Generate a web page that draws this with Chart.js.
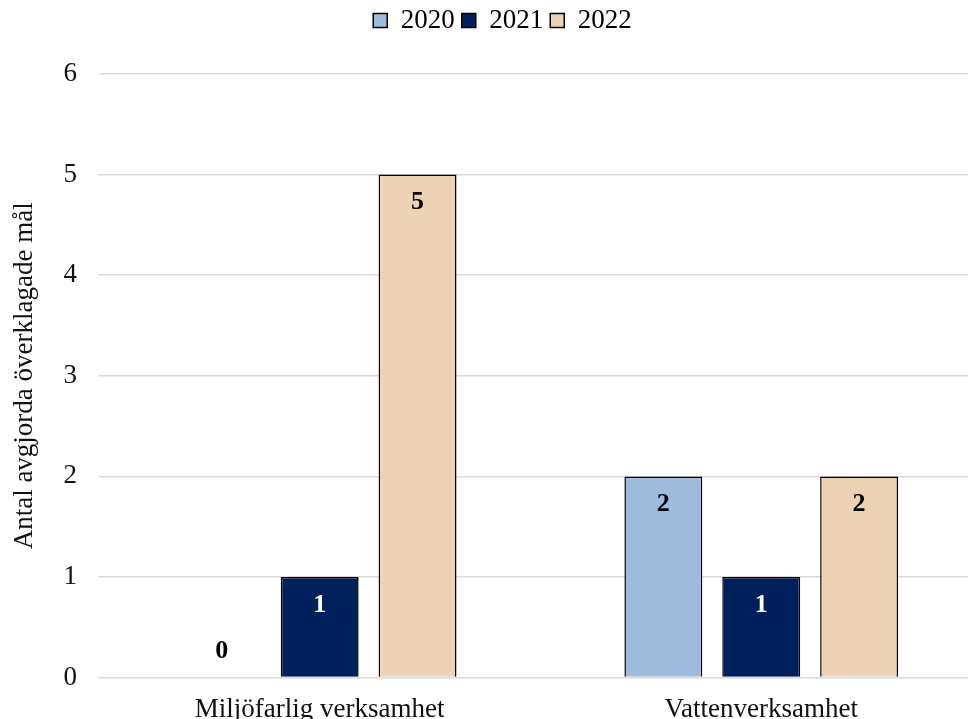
<!DOCTYPE html>
<html>
<head>
<meta charset="utf-8">
<script src="https://cdn.jsdelivr.net/npm/chart.js@4/dist/chart.umd.min.js"></script>
<style>
  html, body { margin: 0; padding: 0; background: #fff; overflow: hidden; }
  #wrap { position: absolute; left: 0; top: 0; width: 1000px; height: 742px; }
</style>
</head>
<body>
<div id="wrap"><canvas id="myChart"></canvas></div>
<script>
const categories = ["Miljöfarlig verksamhet", "Vattenverksamhet"];
const years = ["2020", "2021", "2022"];
const values2020 = [0, 2];
const values2021 = [1, 1];
const values2022 = [5, 2];
const yTicks = [0, 1, 2, 3, 4, 5, 6];

const colors = ["#9dbbdd", "#00205b", "#ebd3b3"];
const labelColors = ["#000", "#fff", "#000"];

document.addEventListener("DOMContentLoaded", () => {
  const ctx = document.getElementById("myChart").getContext("2d");
  const serif = "'Liberation Serif', 'Times New Roman', serif";

  const series = [values2020, values2021, values2022];
  const datasets = series.map((vals, i) => ({
    label: years[i],
    data: vals,
    backgroundColor: colors[i],
    borderColor: "#000",
    borderWidth: vals.map(v => (v === 0 ? 0 : 1.5)),
    borderSkipped: "start",
    barPercentage: 0.796,
    categoryPercentage: 0.665,
  }));

  // value labels inside the top of each bar
  const barLabels = {
    id: "barLabels",
    afterDatasetsDraw(chart) {
      const c = chart.ctx;
      c.save();
      c.font = "bold 26px " + serif;
      c.textAlign = "center";
      c.textBaseline = "middle";
      chart.data.datasets.forEach((ds, i) => {
        const meta = chart.getDatasetMeta(i);
        meta.data.forEach((bar, j) => {
          const v = ds.data[j];
          if (v === 0) {
            c.fillStyle = "#000";
            c.fillText(String(v), bar.x, bar.base - 26);
          } else {
            c.fillStyle = labelColors[i];
            c.fillText(String(v), bar.x, bar.y + 28);
          }
        });
      });
      c.restore();
    },
  };

  // extra space under the legend, and nudge it a bit to the right
  const legendSpace = {
    id: "legendSpace",
    beforeInit(chart) {
      const fit = chart.legend.fit;
      chart.legend.fit = function () {
        fit.bind(chart.legend)();
        this.height += 30;
      };
    },
    afterLayout(chart) {
      chart.legend.left += 7;
      chart.legend.right += 7;
    },
  };

  const config = {
    type: "bar",
    data: { labels: categories, datasets: datasets },
    options: {
      responsive: true,
      maintainAspectRatio: false,
      animation: false,
      layout: { padding: { top: 0, left: 9, right: 18, bottom: 0 } },
      plugins: {
        legend: {
          position: "top",
          labels: {
            font: { family: serif, size: 27 },
            color: "#000",
            boxWidth: 14,
            boxHeight: 14,
            padding: 7,
            generateLabels(chart) {
              return chart.data.datasets.map((ds, i) => ({
                text: ds.label,
                fillStyle: colors[i],
                strokeStyle: "#000",
                lineWidth: 1.5,
                datasetIndex: i,
              }));
            },
          },
        },
        tooltip: { enabled: false },
      },
      scales: {
        x: {
          grid: { display: false, drawTicks: false },
          border: { display: false },
          ticks: {
            font: { family: serif, size: 27 },
            color: "#111",
            padding: 16,
          },
        },
        y: {
          min: 0,
          max: 6,
          afterBuildTicks(scale) {
            scale.ticks = yTicks.map(v => ({ value: v }));
          },
          grid: { color: "#d9d9d9", lineWidth: 1.5, drawTicks: false },
          border: { display: false },
          ticks: {
            font: { family: serif, size: 27 },
            color: "#111",
            padding: 22,
          },
          title: {
            display: true,
            text: "Antal avgjorda överklagade mål",
            font: { family: serif, size: 27 },
            color: "#111",
            padding: { top: 0, bottom: 0 },
          },
        },
      },
    },
    plugins: [barLabels, legendSpace],
  };

  new Chart(ctx, config);
});
</script>
</body>
</html>
